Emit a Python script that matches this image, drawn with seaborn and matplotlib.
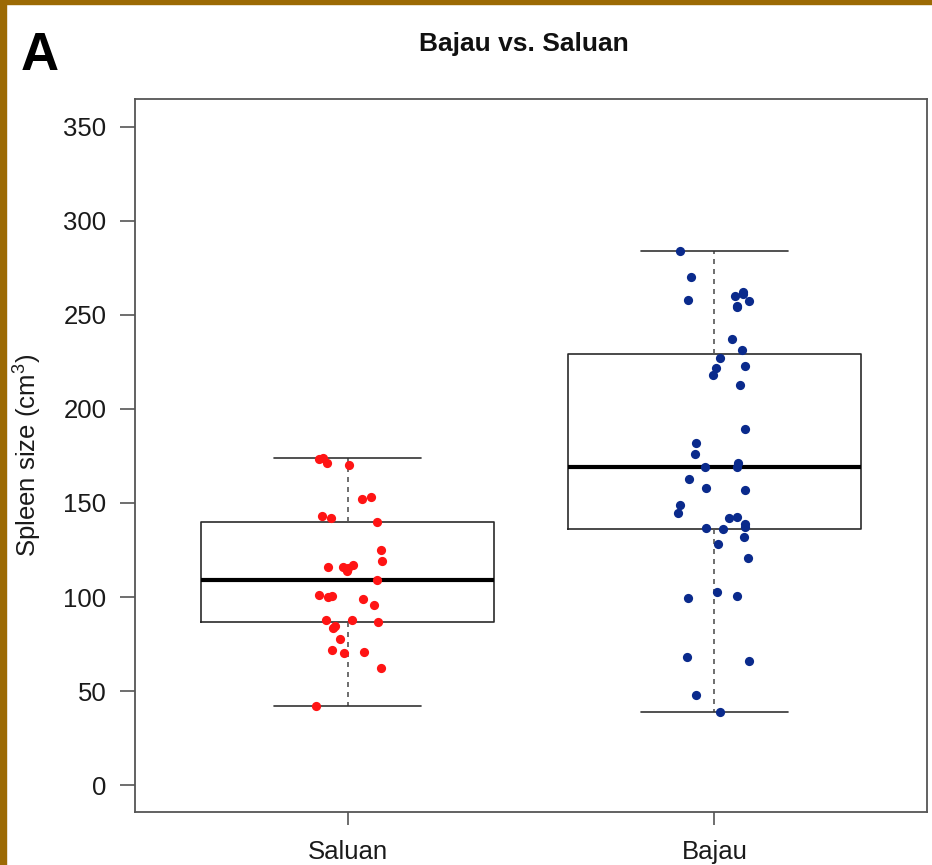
import matplotlib
matplotlib.use("Agg")
import matplotlib.pyplot as plt
from matplotlib.patches import Rectangle
import seaborn as sns
import pandas as pd

# ---- data ----
groups = ["Saluan", "Bajau"]
title = "Bajau vs. Saluan"
y_ticks = [0, 50, 100, 150, 200, 250, 300, 350]

saluan_values = [173.3, 173.8, 171.5, 170, 152, 153, 143, 142, 140, 125,
                 119, 116, 116, 117, 114, 115.5, 109, 101, 100, 100.5,
                 99, 96, 87.6, 88, 86.6, 84.5, 83.5, 77.5, 72, 70.3,
                 70.8, 62, 42]
saluan_jitter = [-0.079, -0.068, -0.057, 0.005, 0.038, 0.063, -0.071, -0.046, 0.079, 0.090,
                 0.093, -0.054, -0.014, 0.014, -0.003, 0.000, 0.079, -0.079, -0.054, -0.044,
                 0.041, 0.071, -0.060, 0.011, 0.084, -0.035, -0.041, -0.022, -0.044, -0.011,
                 0.044, 0.090, -0.087]

bajau_values = [284, 270, 258, 260, 262, 257.6, 254, 237, 231.5, 227,
                222, 218, 223, 213, 189.6, 182, 176, 171.5, 169, 169,
                162.5, 158, 156.7, 149, 144.5, 142, 142.3, 139, 137, 136.5,
                136, 131.7, 128, 121, 102.5, 99.5, 100.4, 68, 66, 48,
                39, 261, 255]
bajau_jitter = [-0.095, -0.063, -0.071, 0.057, 0.079, 0.095, 0.063, 0.049, 0.076, 0.016,
                0.005, -0.003, 0.084, 0.071, 0.084, -0.049, -0.054, 0.065, 0.063, -0.025,
                -0.068, -0.022, 0.084, -0.095, -0.098, 0.041, 0.063, 0.084, 0.084, -0.022,
                0.025, 0.082, 0.011, 0.093, 0.008, -0.071, 0.063, -0.074, 0.095, -0.049,
                0.016, 0.079, 0.063]

point_colors = {"Saluan": "#FF1414", "Bajau": "#0A2A8C"}

# ---- build table ----
df = pd.DataFrame({
    "group": ["Saluan"] * len(saluan_values) + ["Bajau"] * len(bajau_values),
    "value": saluan_values + bajau_values,
    "jitter": saluan_jitter + bajau_jitter,
})
df["pos"] = df["group"].map({g: i for i, g in enumerate(groups)}) + df["jitter"]

sns.set_style("white")
plt.rcParams["font.family"] = ["Liberation Sans", "DejaVu Sans"]
plt.rcParams["mathtext.fontset"] = "custom"
plt.rcParams["mathtext.rm"] = "Liberation Sans"
plt.rcParams["mathtext.it"] = "Liberation Sans:italic"

W, H = 932, 865
fig = plt.figure(figsize=(W / 100, H / 100), dpi=100)
fig.patch.set_facecolor("white")
ax = fig.add_axes([135 / W, 1 - 812 / H, (927 - 135) / W, (812 - 99) / H])

sns.boxplot(data=df, x="group", y="value", order=groups, whis=(0, 100),
            width=0.8, fill=False, color="#2b2b2b", linewidth=1.2,
            showfliers=False,
            medianprops=dict(linewidth=3.0, color="black"),
            whiskerprops=dict(linestyle=(0, (3, 3)), color="#555555", linewidth=1.2),
            capprops=dict(color="#333333", linewidth=1.2),
            ax=ax)

for g in groups:
    sub = df[df["group"] == g]
    sns.scatterplot(x=sub["pos"], y=sub["value"], color=point_colors[g], s=44,
                    linewidth=0, ax=ax, zorder=5, legend=False)

ax.set_xlim(-0.58, 1.58)
ax.set_ylim(-14.3, 364.8)
ax.set_xticks(range(len(groups)))
ax.set_xticklabels(groups)
ax.set_yticks(y_ticks)
ax.set_yticklabels([str(t) for t in y_ticks])
ax.set_xlabel("")
ax.set_ylabel("")

for sp in ax.spines.values():
    sp.set_visible(True)
    sp.set_color("#555555")
    sp.set_linewidth(1.3)

ax.tick_params(axis="y", direction="out", length=10.5, width=1.2, color="#555555",
               labelsize=18.5, pad=10, left=True, labelcolor="#1a1a1a")
ax.tick_params(axis="x", direction="out", length=9.5, width=1.2, color="#555555",
               labelsize=18.5, pad=11, bottom=True, labelcolor="#1a1a1a")

# labels and title
fig.text(28 / W, 1 - 455 / H, r"Spleen size (cm$^{3}$)", rotation=90,
         ha="center", va="center", fontsize=18.5, color="#1a1a1a")
fig.text(524 / W, 1 - 51 / H, title, ha="center", va="baseline",
         fontsize=19, fontweight="bold", color="#111111")
fig.text(21 / W, 1 - 70 / H, "A", ha="left", va="baseline",
         fontsize=38, fontweight="bold", color="black")

# gold frame (left and top edges)
gold = "#9C6A04"
fig.patches.append(Rectangle((0, 0), 6 / W, 1, transform=fig.transFigure,
                             color=gold, zorder=10))
fig.patches.append(Rectangle((0, 1 - 4 / H), 1, 4 / H, transform=fig.transFigure,
                             color=gold, zorder=10))

fig.savefig("out.png", dpi=100)
